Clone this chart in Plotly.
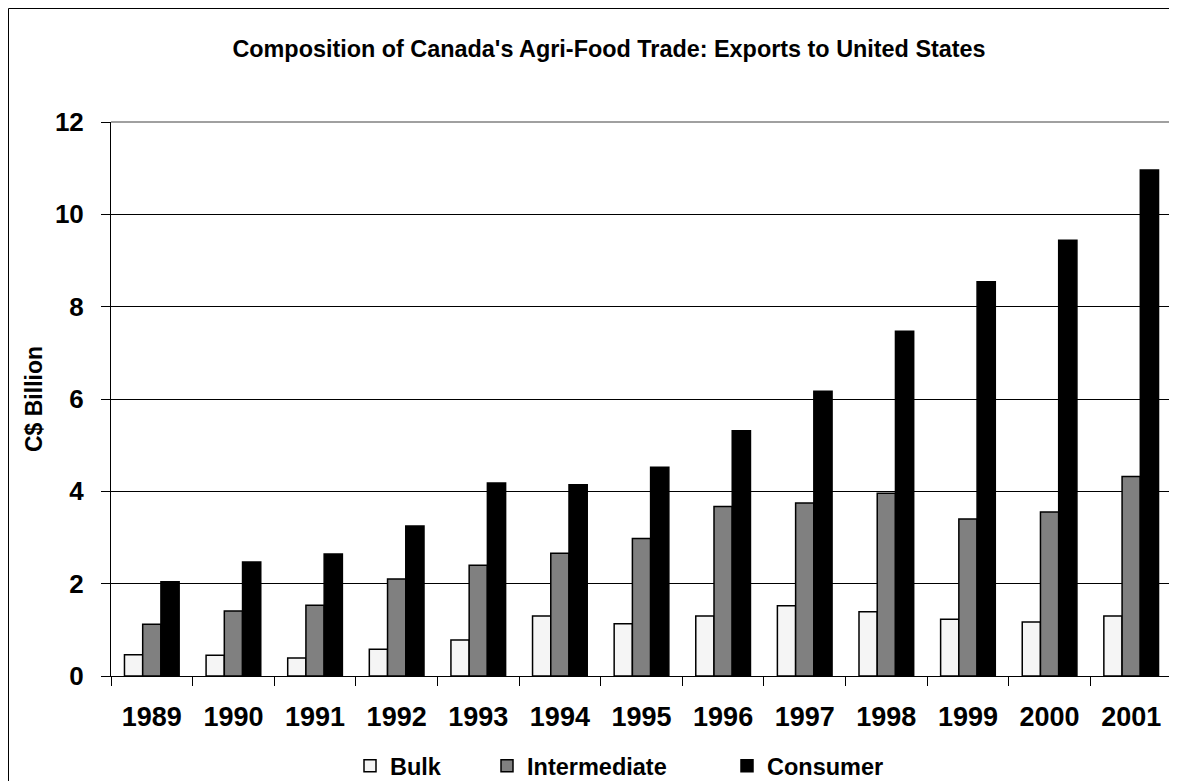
import plotly.graph_objects as go

years = ["1989", "1990", "1991", "1992", "1993", "1994", "1995",
         "1996", "1997", "1998", "1999", "2000", "2001"]
bulk = [0.46, 0.45, 0.39, 0.58, 0.78, 1.30, 1.13, 1.30, 1.52, 1.39, 1.23, 1.17, 1.30]
intermediate = [1.12, 1.41, 1.53, 2.10, 2.40, 2.66, 2.98, 3.67, 3.75, 3.96, 3.40, 3.55, 4.32]
consumer = [2.04, 2.47, 2.64, 3.25, 4.18, 4.14, 4.52, 5.31, 6.17, 7.47, 8.54, 9.44, 10.96]

font = "Liberation Sans, Arial, sans-serif"

# page body has an 8px margin, so the figure is sized 8px smaller
W, H = 1169, 773
L, R, T, B = 103, 5, 114, 105
pw, ph = W - L - R, H - T - B

def px(x):
    return (x - L) / pw

def py(y):
    return (H - B - y) / ph

fig = go.Figure()
fig.add_trace(go.Bar(x=years, y=bulk, name="Bulk", legend="legend",
                     marker=dict(color="#f5f5f5", line=dict(color="black", width=1.5))))
fig.add_trace(go.Bar(x=years, y=intermediate, name="Intermediate", legend="legend2",
                     marker=dict(color="#808080", line=dict(color="black", width=1.5))))
fig.add_trace(go.Bar(x=years, y=consumer, name="Consumer", legend="legend3",
                     marker=dict(color="black", line=dict(color="black", width=1.5))))

leg = dict(orientation="h", yanchor="middle", y=py(758), xanchor="left",
           itemwidth=30, bgcolor="rgba(0,0,0,0)",
           font=dict(size=23.5, family=font, weight="bold"))

fig.update_layout(
    width=W, height=H,
    paper_bgcolor="white", plot_bgcolor="white",
    font=dict(family=font, color="black"),
    margin=dict(l=L, r=R, t=T, b=B, autoexpand=False),
    barmode="group", bargap=0.33, bargroupgap=0,
    title=dict(text="Composition of Canada's Agri-Food Trade: Exports to United States",
               xref="container", x=601 / W, xanchor="center",
               yref="container", y=1 - 41 / H, yanchor="middle",
               font=dict(size=23.4, family=font, weight="bold")),
    legend=dict(leg, x=px(342)),
    legend2=dict(leg, x=px(479)),
    legend3=dict(leg, x=px(719)),
    showlegend=True,
)
fig.update_xaxes(type="category", showline=True, linecolor="black", linewidth=1,
                 ticks="outside", tickson="boundaries", ticklen=9, tickcolor="black",
                 tickfont=dict(size=27, family=font, weight="bold"), ticklabelstandoff=17,
                 showgrid=False, automargin=False)
fig.update_yaxes(range=[0, 12], dtick=2, showline=True, linecolor="black", linewidth=1,
                 ticks="outside", ticklen=9, tickcolor="black",
                 showgrid=True, gridcolor="black", gridwidth=1, zeroline=False,
                 tickfont=dict(size=26, family=font, weight="bold"), ticklabelstandoff=12,
                 automargin=False,
                 title=dict(text="C$ Billion", standoff=5,
                            font=dict(size=23, family=font, weight="bold")))

# gray top/right frame of plot area
fig.add_shape(type="line", xref="paper", yref="paper", x0=0, x1=1, y0=1, y1=1,
              line=dict(color="#808080", width=1.5))
fig.add_shape(type="line", xref="paper", yref="paper", x0=1, x1=1, y0=0, y1=1,
              line=dict(color="#808080", width=1.5))
# outer chart border
fig.add_shape(type="rect", xref="paper", yref="paper",
              x0=px(0.5), x1=px(W + 10), y0=py(H + 10), y1=py(0.5),
              line=dict(color="black", width=1))

fig.write_html("out.html")
